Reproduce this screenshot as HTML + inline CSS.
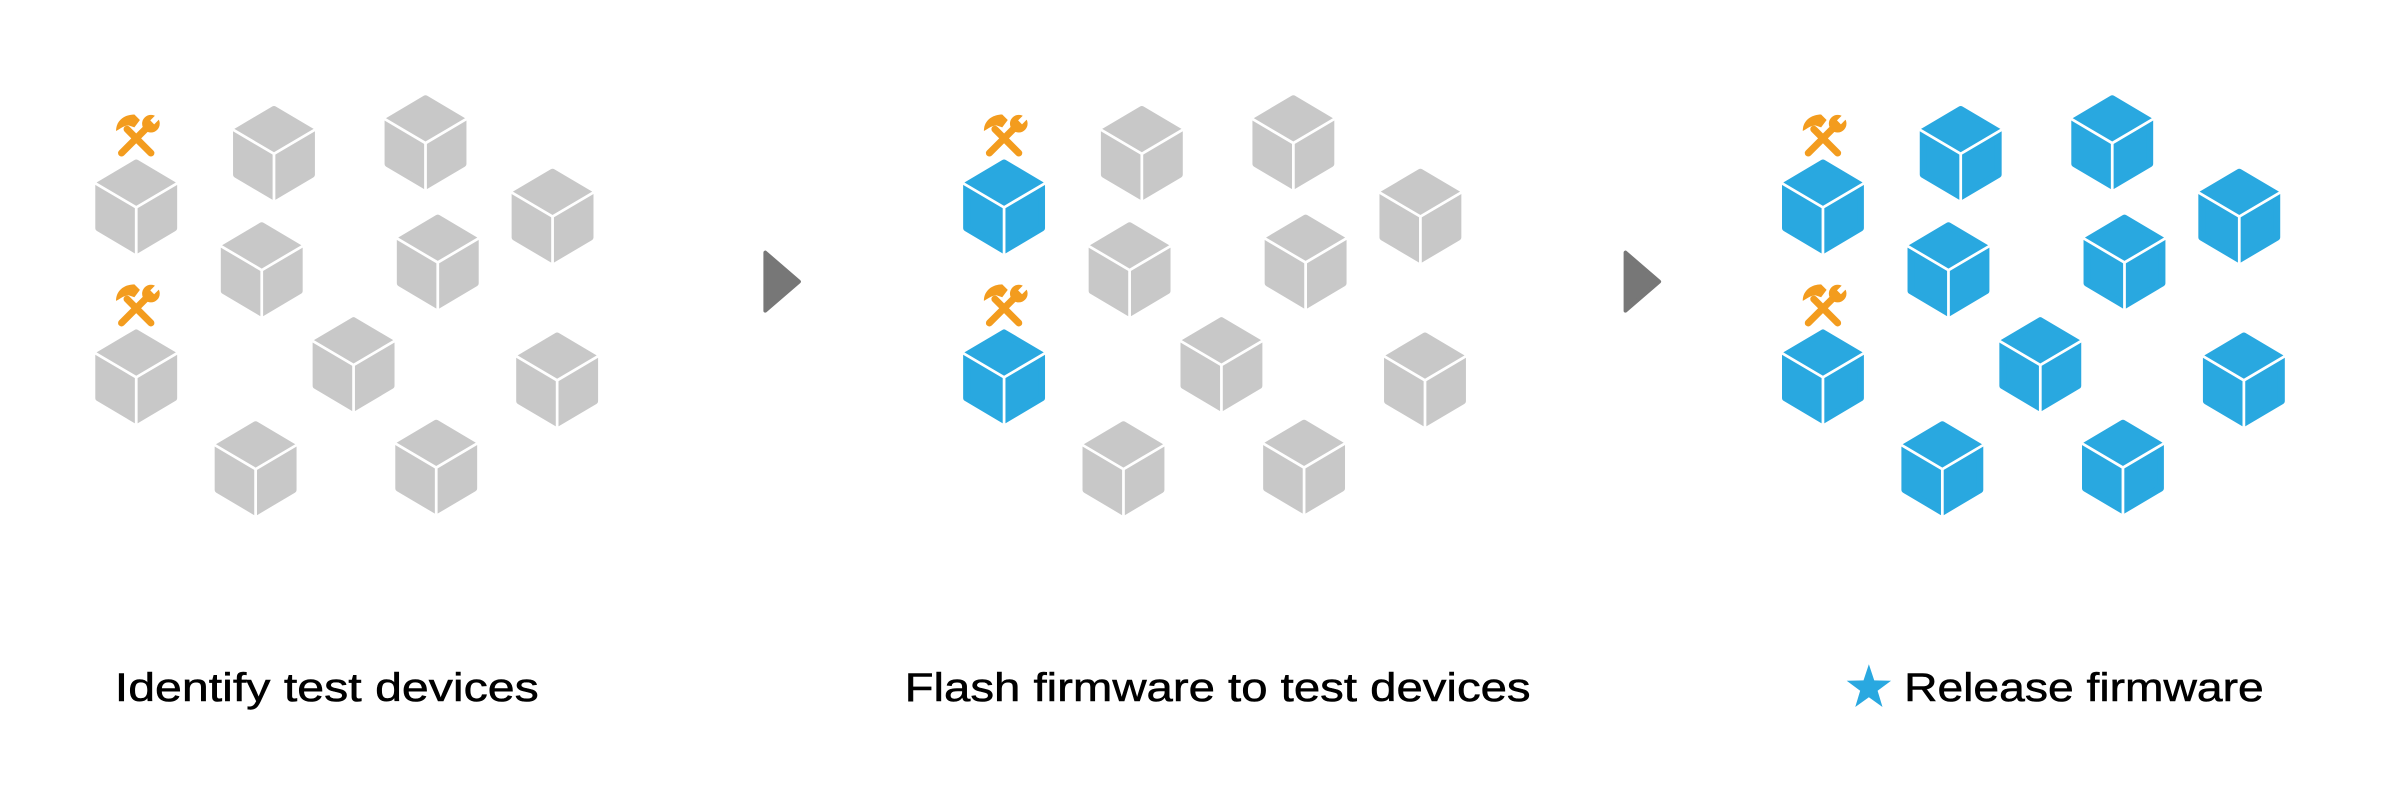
<!DOCTYPE html>
<html><head><meta charset="utf-8"><style>
html,body{margin:0;padding:0;background:#fff;}
svg{display:block;}
</style></head><body>
<svg width="2400" height="800" viewBox="0 0 1568 522.67" xmlns="http://www.w3.org/2000/svg">
<defs>
<g id="cg">
  <polygon points="0,-28.5 24.5,-14 24.5,14 0,28.5 -24.5,14 -24.5,-14" fill="#c8c8c8" stroke="#c8c8c8" stroke-width="4.5" stroke-linejoin="round"/>
  <polyline points="-28,-16 0,0.5 28,-16" fill="none" stroke="#fff" stroke-width="1.8"/>
  <line x1="0" y1="0.5" x2="0" y2="32" stroke="#fff" stroke-width="1.8"/>
</g>
<g id="cb">
  <polygon points="0,-28.5 24.5,-14 24.5,14 0,28.5 -24.5,14 -24.5,-14" fill="#29a8e0" stroke="#29a8e0" stroke-width="4.5" stroke-linejoin="round"/>
  <polyline points="-28,-16 0,0.5 28,-16" fill="none" stroke="#fff" stroke-width="1.8"/>
  <line x1="0" y1="0.5" x2="0" y2="32" stroke="#fff" stroke-width="1.8"/>
</g>
<g id="tool" fill="#f39c1e" stroke="#f39c1e" transform="scale(1.2)">
  <line x1="-8" y1="10" x2="7" y2="-5" stroke-width="3.8" stroke-linecap="round"/>
  <line x1="8" y1="10" x2="-5" y2="-3" stroke-width="3.8" stroke-linecap="round"/>
  <path d="M-11,-2 C-11,-8 -6,-11 -1,-11 L2,-8 L-1,-4 L-4,-5 C-7,-5 -9,-3 -11,-2 Z" stroke="none"/>
  <circle cx="8" cy="-6" r="4.8" stroke="none"/>
  <rect x="6.5" y="-12.5" width="3" height="5.5" fill="#fff" stroke="none" transform="rotate(45 8 -6)"/>
</g>
</defs>

<!-- Panel 1 -->
<use href="#tool" x="89" y="88"/>
<use href="#tool" x="89" y="199"/>
<use href="#cg" x="89" y="135"/>
<use href="#cg" x="179" y="100"/>
<use href="#cg" x="278" y="93"/>
<use href="#cg" x="361" y="141"/>
<use href="#cg" x="171" y="176"/>
<use href="#cg" x="286" y="171"/>
<use href="#cg" x="89" y="246"/>
<use href="#cg" x="231" y="238"/>
<use href="#cg" x="364" y="248"/>
<use href="#cg" x="167" y="306"/>
<use href="#cg" x="285" y="305"/>

<!-- Panel 2 -->
<use href="#tool" x="656" y="88"/>
<use href="#tool" x="656" y="199"/>
<use href="#cb" x="656" y="135"/>
<use href="#cg" x="746" y="100"/>
<use href="#cg" x="845" y="93"/>
<use href="#cg" x="928" y="141"/>
<use href="#cg" x="738" y="176"/>
<use href="#cg" x="853" y="171"/>
<use href="#cb" x="656" y="246"/>
<use href="#cg" x="798" y="238"/>
<use href="#cg" x="931" y="248"/>
<use href="#cg" x="734" y="306"/>
<use href="#cg" x="852" y="305"/>

<!-- Panel 3 -->
<use href="#tool" x="1191" y="88"/>
<use href="#tool" x="1191" y="199"/>
<use href="#cb" x="1191" y="135"/>
<use href="#cb" x="1281" y="100"/>
<use href="#cb" x="1380" y="93"/>
<use href="#cb" x="1463" y="141"/>
<use href="#cb" x="1273" y="176"/>
<use href="#cb" x="1388" y="171"/>
<use href="#cb" x="1191" y="246"/>
<use href="#cb" x="1333" y="238"/>
<use href="#cb" x="1466" y="248"/>
<use href="#cb" x="1269" y="306"/>
<use href="#cb" x="1387" y="305"/>

<!-- Arrows -->
<polygon points="500,165 500,203 522,184" fill="#777" stroke="#777" stroke-width="2.5" stroke-linejoin="round"/>
<polygon points="1062,165 1062,203 1084,184" fill="#777" stroke="#777" stroke-width="2.5" stroke-linejoin="round"/>

<!-- Labels -->
<g font-family="Liberation Sans, sans-serif" font-size="26" fill="#000" stroke="#000" stroke-width="0.35">
  <text x="75" y="458" textLength="277" lengthAdjust="spacingAndGlyphs">Identify test devices</text>
  <text x="591" y="458" textLength="409" lengthAdjust="spacingAndGlyphs">Flash firmware to test devices</text>
  <text x="1244" y="458" textLength="235" lengthAdjust="spacingAndGlyphs">Release firmware</text>
</g>
<polygon fill="#29a8e0" points="1221,434 1224.5,444.5 1235.5,444.8 1226.7,451.3 1229.9,461.9 1221,455.5 1212.1,461.9 1215.3,451.3 1206.5,444.8 1217.5,444.5"/>
</svg>
</body></html>
